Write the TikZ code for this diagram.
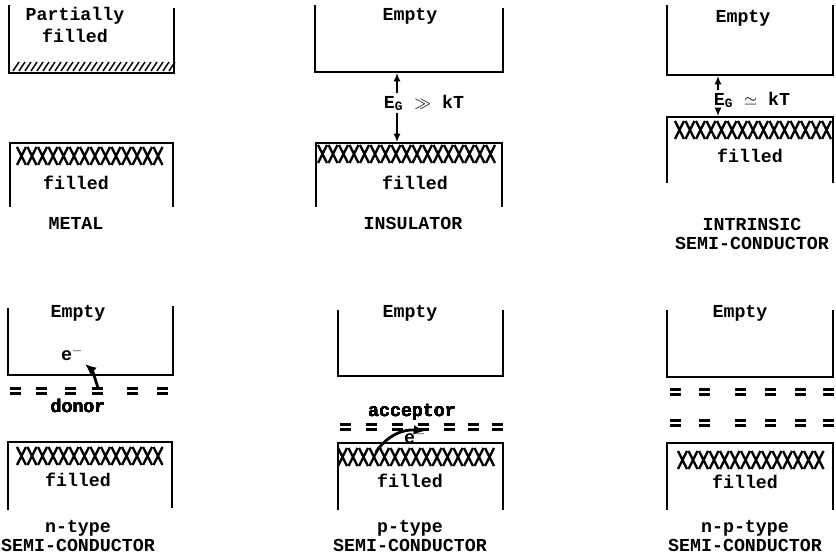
\documentclass[tikz,border=0pt]{standalone}
\usepackage{fontspec}
\setmonofont{Liberation Mono}
\usetikzlibrary{arrows.meta}

\tikzset{
  band/.style={line width=1.3pt},
  xmk/.style={line width=1.7pt},
  lvl/.style={line width=1.5pt},
  lbl/.style={font=\ttfamily\bfseries\fontsize{13}{13}\selectfont, inner sep=1pt, align=center},
  hop/.style={line width=2pt, -{Latex[length=8pt,width=7pt]}},
  gap/.style={line width=0.9pt, -{Latex[length=6pt,width=5pt]}}
}
% row of filled states, and a pair of impurity levels
\newcommand{\xrow}[3]{\foreach \i in {1,...,#3} {\draw[xmk] ({#1+10.5*(\i-1)},{#2-9}) -- ++(9,18) ({#1+10.5*(\i-1)+9},{#2-9}) -- ++(-9,18);}}
\newcommand{\lvlpair}[2]{\draw[lvl] (#1,{#2-2.5}) -- ++(11,0) (#1,{#2+2.5}) -- ++(11,0);}

\begin{document}
\begin{tikzpicture}[x=0.025cm, y=-0.025cm]
\useasboundingbox (0,0) rectangle (836,556);

% Metal
\draw[band] (9,5) -- (9,73) -- (174,73) -- (174,8);
\foreach \i in {0,...,26} \draw[line width=1pt] ({13+6*\i},71) -- ++(6,-9);
\node[lbl] (met-up) at (75,25) {Partially\\[2pt]filled};
\draw[band] (10,207) -- (10,143) -- (173,143) -- (173,207);
\xrow{17}{156}{14}
\node[lbl] (met-low) at (76,183) {filled};
\node[lbl] (met-name) at (76,223) {METAL};

% Insulator
\draw[band] (315,5) -- (315,72) -- (503,72) -- (503,8);
\node[lbl] (ins-up) at (410,16) {Empty};
\coordinate (ins-a) at (397,73);
\coordinate (ins-b) at (397,142);
\node[lbl] (ins-gap) at (424,103) {E\textsubscript{G} $\gg$ kT};
\draw[gap] (ins-gap.north -| ins-a) -- (ins-a);
\draw[gap] (ins-gap.south -| ins-b) -- (ins-b);
\draw[band] (316,207) -- (316,143) -- (502,143) -- (502,207);
\xrow{318}{154}{17}
\node[lbl] (ins-low) at (415,183) {filled};
\node[lbl] (ins-name) at (413,223) {INSULATOR};

% Intrinsic semi-conductor
\draw[band] (667,5) -- (667,75) -- (833,75) -- (833,5);
\node[lbl] (int-up) at (743,18) {Empty};
\coordinate (int-a) at (718,76);
\coordinate (int-b) at (718,116);
\node[lbl] (int-gap) at (752,100) {E\textsubscript{G} $\simeq$ kT};
\draw[gap] (int-gap.north -| int-a) -- (int-a);
\draw[gap] (int-gap.south -| int-b) -- (int-b);
\draw[band] (667,183) -- (667,117) -- (833,117) -- (833,183);
\xrow{675}{130}{15}
\node[lbl] (int-low) at (750,156) {filled};
\node[lbl] (int-name) at (752,234) {INTRINSIC\\SEMI-CONDUCTOR};

% n-type
\draw[band] (8,308) -- (8,375) -- (173,375) -- (173,306);
\node[lbl] (n-up) at (78,313) {Empty};
\node[lbl] (n-e) at (72,354) {e$^-$};
\coordinate (n-from) at (98,388);
\coordinate (n-to) at (85,364);
\draw[hop] (n-from) .. controls (95,378) and (92,370) .. (n-to);
\foreach \x in {10,36,65,92,127,157} \lvlpair{\x}{391}
\node[lbl] (n-don) at (78,406) {donor};
\draw[band] (8,510) -- (8,442) -- (172,442) -- (172,508);
\xrow{17}{456}{14}
\node[lbl] (n-low) at (78,480) {filled};
\node[lbl] (n-name) at (78,536) {n-type\\SEMI-CONDUCTOR};

% p-type
\draw[band] (338,310) -- (338,376) -- (503,376) -- (503,310);
\node[lbl] (p-up) at (410,313) {Empty};
\foreach \x in {340,366,392,418,444,468,492} \lvlpair{\x}{427}
\node[lbl] (p-acc) at (412,412) {acceptor};
\node[lbl] (p-e) at (415,437) {e$^-$};
\coordinate (p-from) at (376,452);
\coordinate (p-to) at (425,431);
\draw[hop] (p-from) .. controls (388,434) and (405,429) .. (p-to);
\draw[band] (338,510) -- (338,443) -- (503,443) -- (503,510);
\xrow{338}{457}{15}
\node[lbl] (p-low) at (410,481) {filled};
\node[lbl] (p-name) at (410,536) {p-type\\SEMI-CONDUCTOR};

% n-p-type
\draw[band] (667,310) -- (667,377) -- (833,377) -- (833,310);
\node[lbl] (np-up) at (740,313) {Empty};
\foreach \x in {670,699,735,765,795,823} {\lvlpair{\x}{392} \lvlpair{\x}{423}}
\draw[band] (667,510) -- (667,443) -- (833,443) -- (833,510);
\xrow{678}{460}{14}
\node[lbl] (np-low) at (745,482) {filled};
\node[lbl] (np-name) at (745,536) {n-p-type\\SEMI-CONDUCTOR};
\end{tikzpicture}
\end{document}
